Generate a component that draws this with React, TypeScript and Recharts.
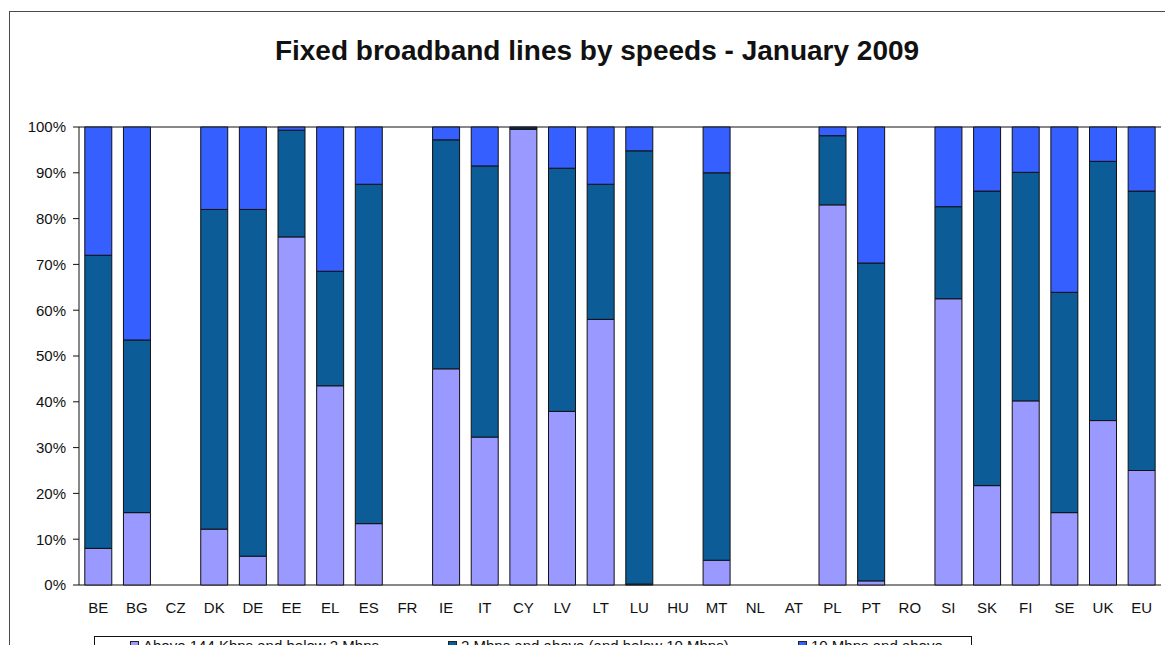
import React from 'react';
import { BarChart, Bar, XAxis, YAxis, CartesianGrid, Legend } from 'recharts';

const categories = ['BE','BG','CZ','DK','DE','EE','EL','ES','FR','IE','IT','CY','LV','LT','LU','HU','MT','NL','AT','PL','PT','RO','SI','SK','FI','SE','UK','EU'];
const lowSpeed = [8,15.8,0,12.2,6.3,76,43.5,13.4,0,47.2,32.3,99.5,37.9,58,0.2,0,5.4,0,0,83,0.9,0,62.5,21.7,40.2,15.8,35.9,25];
const midSpeed = [64,37.7,0,69.8,75.7,23.3,25,74.1,0,50,59.2,0.3,53.1,29.5,94.6,0,84.6,0,0,15.1,69.4,0,20.1,64.3,49.9,48.1,56.6,61];
const highSpeed = [28,46.5,0,18,18,0.7,31.5,12.5,0,2.8,8.5,0.2,9,12.5,5.2,0,10,0,0,1.9,29.7,0,17.4,14,9.9,36.1,7.5,14];
const yTicks = [0,10,20,30,40,50,60,70,80,90,100];
const boundaryTicks = Array.from({ length: categories.length + 1 }, (_, i) => i);
const seriesKeys = ['low', 'mid', 'high'];
const seriesNames = ['Above 144 Kbps and below 2 Mbps', '2 Mbps and above (and below 10 Mbps)', '10 Mbps and above'];
const seriesColors = ['#9999FF', '#0B5C97', '#3560FF'];

const data = categories.map((c, i) => ({
  name: c,
  low: lowSpeed[i],
  mid: midSpeed[i],
  high: highSpeed[i],
}));

const FONT = '"Liberation Sans", Arial, sans-serif';
const itemOffsets = [35, 353, 703];

const LegendContent = (props: any) => {
  const payload = [...(props.payload || [])].sort(
    (a: any, b: any) => seriesKeys.indexOf(a.dataKey) - seriesKeys.indexOf(b.dataKey)
  );
  return (
    <div style={{ position: 'relative', width: '100%', height: '100%', fontFamily: FONT, fontSize: 15, color: '#111' }}>
      {payload.map((p: any, i: number) => (
        <div key={i} style={{ position: 'absolute', left: itemOffsets[i], top: 0, display: 'flex', alignItems: 'center', whiteSpace: 'nowrap', lineHeight: '17px' }}>
          <span style={{ display: 'inline-block', width: 7, height: 7, background: p.color, border: '1px solid #222', marginRight: 4 }} />
          <span>{p.value}</span>
        </div>
      ))}
    </div>
  );
};

export default function App() {
  return (
    <div style={{ position: 'relative', margin: -8, width: 1173, height: 653, overflow: 'hidden', background: '#fff', fontFamily: FONT }}>
      <div style={{ position: 'absolute', left: 9, top: 11, width: 1200, height: 700, border: '1.5px solid #4a4a4a', boxSizing: 'border-box' }} />
      <div style={{ position: 'absolute', left: 0, width: 1194, top: 34, textAlign: 'center', fontSize: 28, fontWeight: 'bold', color: '#111', fontFamily: FONT, lineHeight: '34px' }}>
        Fixed broadband lines by speeds - January 2009
      </div>
      <div style={{ position: 'absolute', left: 0, top: 0 }}>
        <BarChart
          width={1173}
          height={653}
          data={data}
          margin={{ top: 127, right: 12, left: 0, bottom: 8 }}
          barCategoryGap="15%"
        >
          <CartesianGrid vertical={false} stroke="#111" strokeWidth={1} />
          <XAxis
            xAxisId="bounds"
            type="number"
            domain={[0, categories.length]}
            ticks={boundaryTicks}
            height={0}
            tick={false}
            tickLine={{ stroke: '#111' }}
            tickSize={6}
            axisLine={{ stroke: '#111' }}
            allowDataOverflow
          />
          <XAxis
            dataKey="name"
            xAxisId="cat"
            height={30}
            interval={0}
            axisLine={false}
            tickLine={false}
            tickSize={6}
            tickMargin={11}
            tick={{ fill: '#111', fontSize: 15, fontFamily: FONT }}
          />
          <YAxis
            yAxisId="left"
            width={79}
            domain={[0, 100]}
            ticks={yTicks}
            interval={0}
            tickFormatter={(v: number) => `${v}%`}
            axisLine={{ stroke: '#111' }}
            tickLine={{ stroke: '#111' }}
            tickSize={6}
            tickMargin={7}
            tick={{ fill: '#111', fontSize: 15, fontFamily: FONT }}
          />
          <YAxis
            yAxisId="right"
            orientation="right"
            width={0}
            domain={[0, 100]}
            tick={false}
            tickLine={false}
            axisLine={{ stroke: '#9a9a9a' }}
          />
          <Legend
            verticalAlign="bottom"
            content={<LegendContent />}
            wrapperStyle={{ position: 'absolute', left: 94, top: 636, width: 878, height: 30, border: '1px solid #111', boxSizing: 'border-box', background: '#fff' }}
          />
          <Bar dataKey="low" name={seriesNames[0]} stackId="s" xAxisId="cat" yAxisId="left" fill={seriesColors[0]} stroke="#111" strokeWidth={1} isAnimationActive={false} />
          <Bar dataKey="mid" name={seriesNames[1]} stackId="s" xAxisId="cat" yAxisId="left" fill={seriesColors[1]} stroke="#111" strokeWidth={1} isAnimationActive={false} />
          <Bar dataKey="high" name={seriesNames[2]} stackId="s" xAxisId="cat" yAxisId="left" fill={seriesColors[2]} stroke="#111" strokeWidth={1} isAnimationActive={false} />
        </BarChart>
      </div>
    </div>
  );
}
